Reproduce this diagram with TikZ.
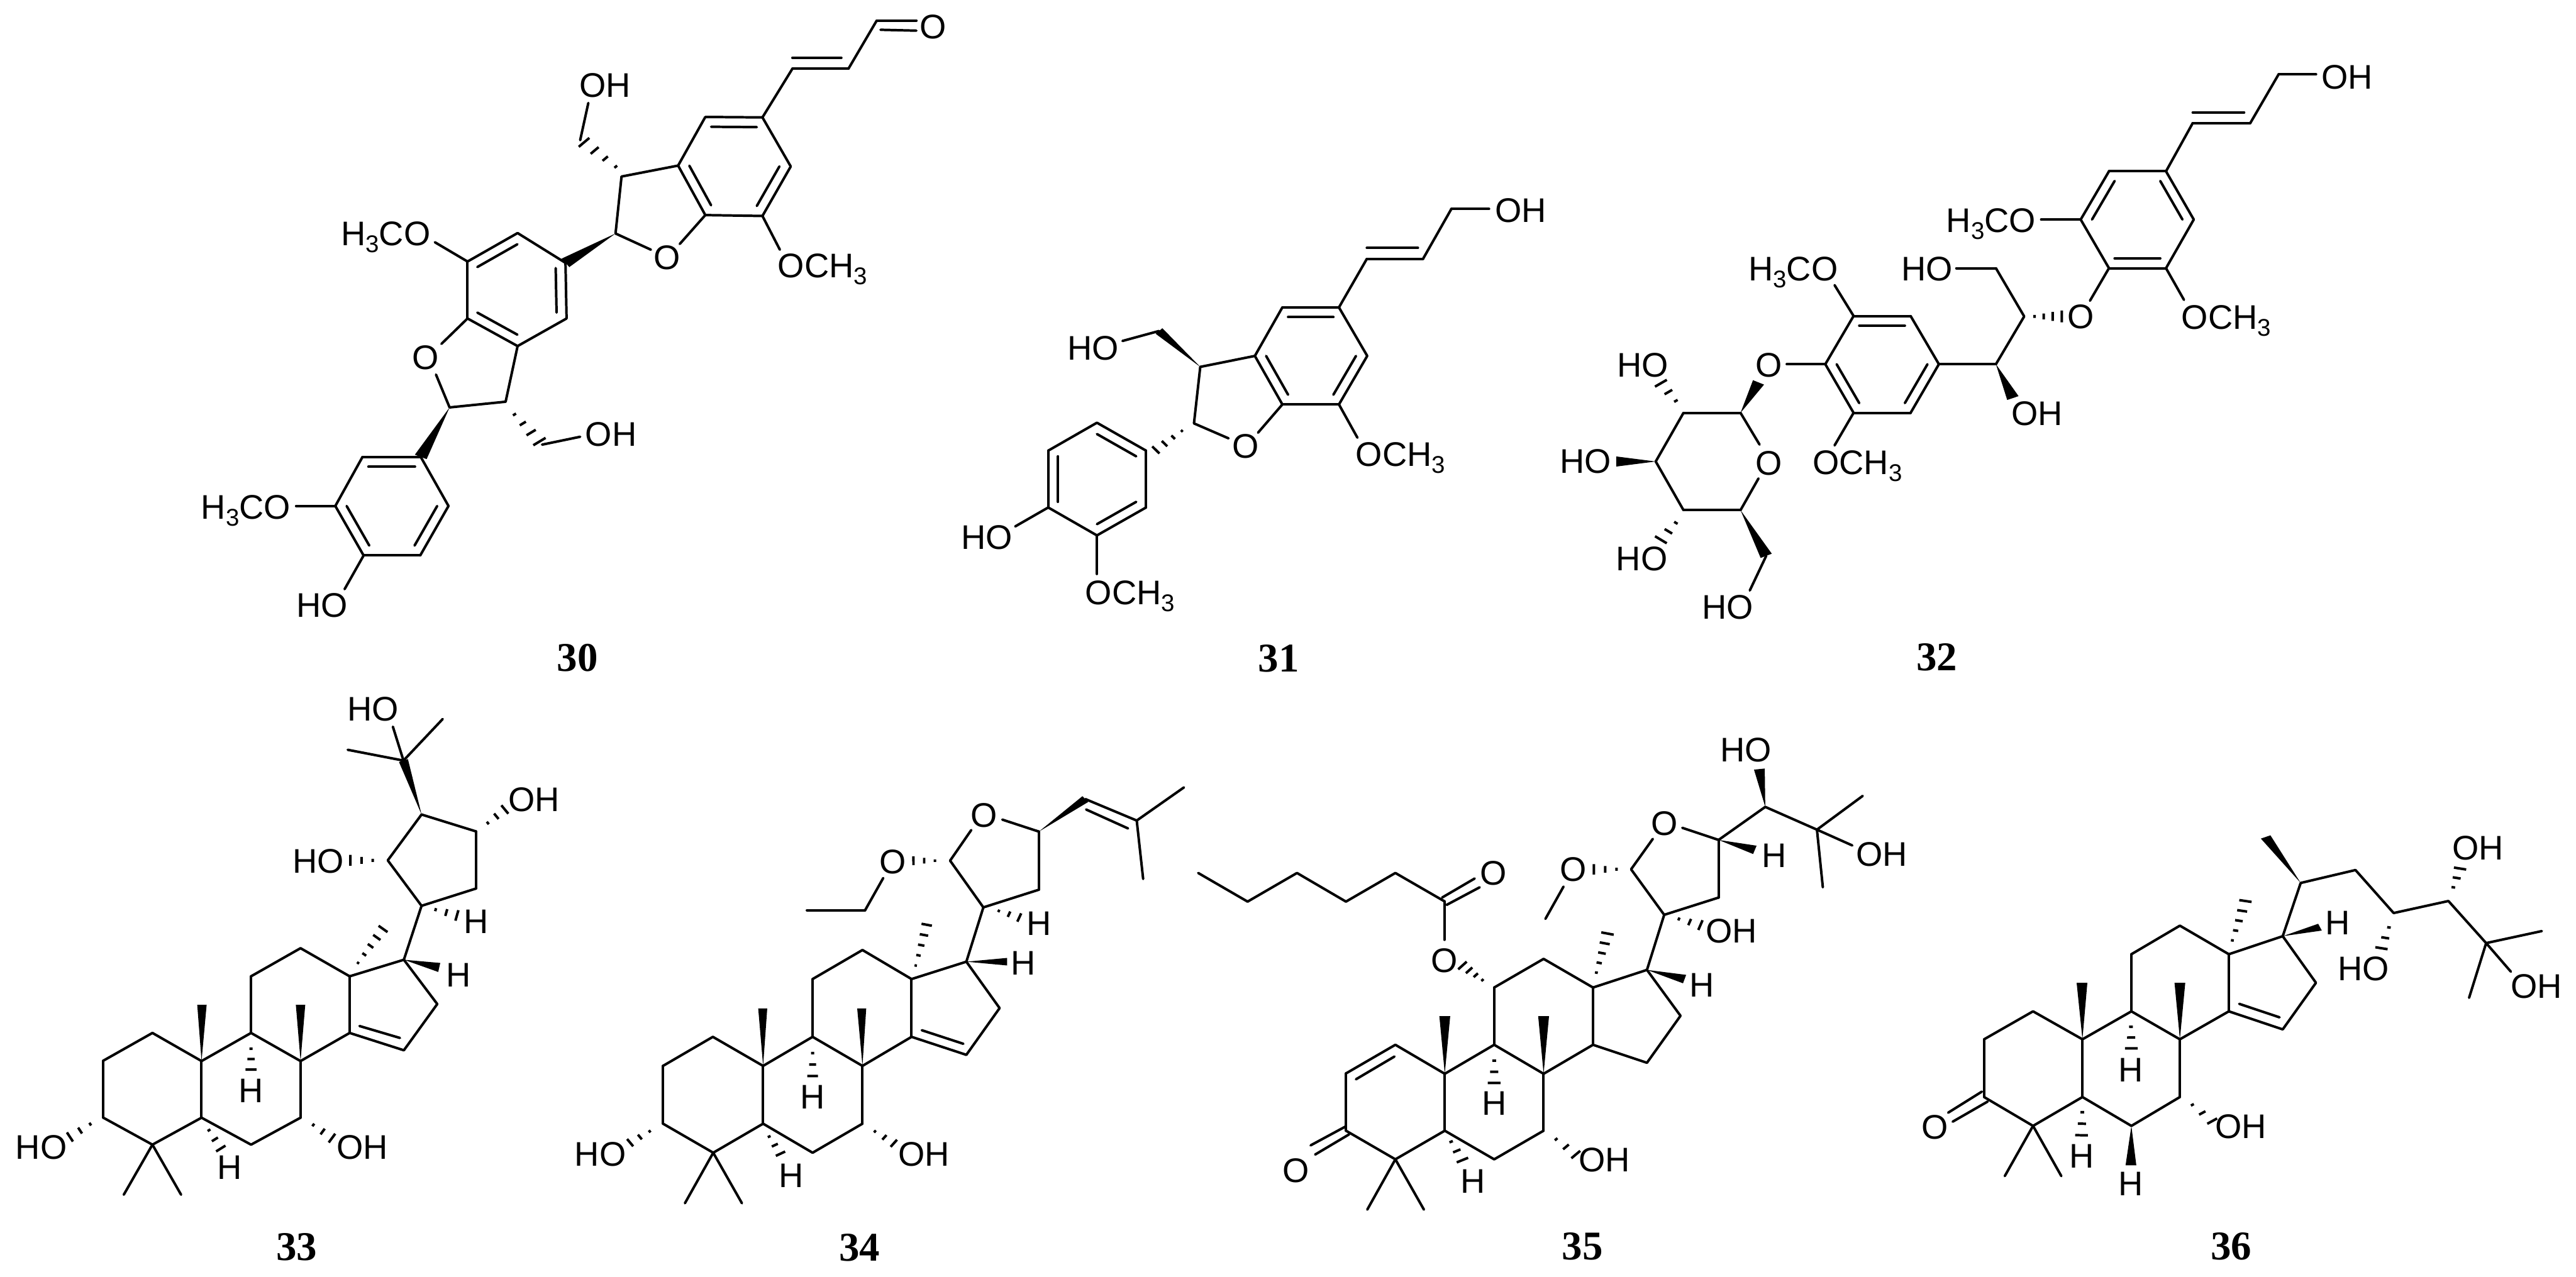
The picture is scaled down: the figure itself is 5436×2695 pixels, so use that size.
\documentclass[tikz,border=0pt]{standalone}
\usepackage{fontspec}
\setmainfont{Liberation Sans}
\newfontfamily\numfont{Liberation Serif}
\usetikzlibrary{calc}
\tikzset{
  bond/.style={line width=1.5pt,line cap=round,line join=round,black},
  hashline/.style={line width=1.5pt,line cap=butt,black},
  lab/.style={inner sep=0pt,font=\fontsize{20.5}{24}\selectfont,text=black},
  numlab/.style={inner sep=0pt,anchor=base,font=\numfont\bfseries\fontsize{24.5}{28}\selectfont,text=black},
  molecule/.style n args={5}{shift={(#1,#2)},xscale=#3/1568,yscale=#4/1568,name prefix=#5-}
}
\newcommand\sbs[1]{\raisebox{-4.2pt}{\fontsize{14.5}{15}\selectfont #1}}
\newcommand\atoms[1]{\foreach \n/\x/\y in {#1}{\coordinate (\n) at (\x,\y);}}
\newcommand\bonds[1]{\foreach \p/\q in {#1}{\draw[bond] (\p)--(\q);}}
% inner line of a double bond #1-#2, pulled towards point #3 by fraction #4
\newcommand\inr[4]{\draw[bond] ($(#1)!#4!(#3)$)--($(#2)!#4!(#3)$);}
% solid wedge, narrow at #1, wide at #2
\newcommand\wdg[2]{\fill[black,line join=round] (#1)--($(#2)!3.4pt!90:(#1)$)--($(#2)!3.4pt!-90:(#1)$)--cycle;}
% hashed wedge with #1 strokes, narrow at #2, wide at #3
\newcommand\hsh[3]{\foreach \i in {1,...,#1}{%
  \pgfmathsetmacro\tt{(\i-0.6)/(#1-0.6)}%
  \pgfmathsetmacro\hh{\tt*3.4+0.6}%
  \coordinate (hp) at ($(#2)!\tt!(#3)$);%
  \draw[hashline] ($(hp)!\hh pt!90:(#2)$)--($(hp)!\hh pt!-90:(#2)$);}}
\newcommand\lb[5]{\node[lab,anchor=#2] (#1) at (#3,#4) {#5};}
\newcommand\OCH{OCH\sbs{3}}
\newcommand\HCO{H\sbs{3}CO}
\begin{document}
\begin{tikzpicture}[x=0.01cm,y=-0.01cm]
\useasboundingbox (0,0) rectangle (5436,2695);
\fill[white] (0,0) rectangle (5436,2695);

% ---------- 30 ----------
\begin{scope}[molecule={300}{0}{1800}{1450}{m30}]
\atoms{a1/1140/268,a2/1192/380,a3/1140/493,a4/1035/491,a5/985/378,a6/1035/267,ca/1088/379,
 b1/1195/157,b2/1298/157,b3/1350/47,bo/1423/47,i1/1195/132,i2/1285/132,j1/1357/68,j2/1423/70,
 oe/988/557,c1/870/533,co/935/570,c2/881/403,h1/878/388,h2/812/325,c3/805/320,c3o/820/235,
 ome/1172/570,d1/778/600,d2/780/727,d3/690/790,d4/598/727,d5/598/597,d6/690/532,cd/688/660,
 dome/538/553,doe/550/785,doe2/540/855,e1/565/930,e2/668/917,h3/678/938,h4/730/1008,e3/735/1015,e3o/805/997,
 f1/512/1043,f2/563/1155,f3/511/1268,f4/407/1268,f5/355/1155,f6/405/1043,cf/459/1155,fome/283/1155,foh/372/1345}
\bonds{a1/a2,a2/a3,a3/a4,a4/a5,a5/a6,a6/a1,a1/b1,b1/b2,b2/b3,b3/bo,j1/j2,i1/i2,a4/oe,co/c1,c1/c2,c2/a5,c3/c3o,a3/ome,
 d1/d2,d2/d3,d3/d4,d4/d5,d5/d6,d6/d1,d5/dome,d4/doe,doe2/e1,e1/e2,e2/d3,e3/e3o,
 f1/f2,f2/f3,f3/f4,f4/f5,f5/f6,f6/f1,f5/fome,f4/foh}
\inr{a6}{a1}{ca}{.2}\inr{a2}{a3}{ca}{.2}\inr{a4}{a5}{ca}{.2}
\inr{d6}{d5}{cd}{.2}\inr{d1}{d2}{cd}{.2}\inr{d3}{d4}{cd}{.2}
\inr{f1}{f6}{cf}{.2}\inr{f2}{f3}{cf}{.2}\inr{f4}{f5}{cf}{.2}
\hsh{4}{h1}{h2}\hsh{4}{h3}{h4}\wdg{c1}{d1}\wdg{e1}{f1}
\lb{l1}{base}{1454}{88}{O}
\lb{l2}{base}{851}{222}{OH}
\lb{l3}{base west}{1168}{634}{\OCH}
\lb{l4}{base west}{365}{560}{\HCO}
\lb{l5}{base}{521}{843}{O}
\lb{l6}{base}{862}{1018}{OH}
\lb{l7}{base}{965}{615}{O}
\lb{l8}{base west}{108}{1185}{\HCO}
\lb{l9}{base}{331}{1408}{HO}
\node[numlab] (num) at (800,1532) {30};
\end{scope}

% ---------- 31 ----------
\begin{scope}[molecule={1950}{350}{1300}{1100}{m31}]
\atoms{a1/1056/426,a2/1128/572,a3/1056/718,a4/912/718,a5/842/572,a6/912/426,ca/985/572,
 b1/1127/280,b2/1270/280,b3/1342/130,bo/1438/130,i1/1127/247,i2/1257/247,
 ome/1103/818,oe/850/803,oe2/775/820,c1/687/775,c2/703/605,c3/598/497,c3o/505/527,
 h1/665/790,h2/590/855,d1/565/857,d2/565/1028,d3/440/1112,d4/316/1028,d5/316/857,d6/440/773,cd/440/943,
 doh/232/1085,dome/440/1228}
\bonds{a1/a2,a2/a3,a3/a4,a4/a5,a5/a6,a6/a1,a1/b1,b1/b2,b2/b3,b3/bo,i1/i2,a3/ome,a4/oe,oe2/c1,c1/c2,c2/a5,c3/c3o,
 d1/d2,d2/d3,d3/d4,d4/d5,d5/d6,d6/d1,d4/doh,d3/dome}
\inr{a6}{a1}{ca}{.2}\inr{a2}{a3}{ca}{.2}\inr{a4}{a5}{ca}{.2}
\inr{d6}{d1}{cd}{.2}\inr{d2}{d3}{cd}{.2}\inr{d4}{d5}{cd}{.2}
\wdg{c2}{c3}\hsh{4}{h1}{h2}
\lb{l1}{base west}{1453}{170}{OH}
\lb{l2}{base west}{1098}{903}{\OCH}
\lb{l3}{base}{818}{880}{O}
\lb{l4}{base}{430}{585}{HO}
\lb{l5}{base}{160}{1153}{HO}
\lb{l6}{base west}{410}{1320}{\OCH}
\node[numlab] (num) at (903,1522) {31};
\end{scope}

% ---------- 32 ----------
\begin{scope}[molecule={3250}{50}{1700}{1400}{m32}]
\atoms{a1/1218/349,a2/1272/463,a3/1218/578,a4/1107/578,a5/1052/463,a6/1107/349,ca/1162/463,
 b1/1270/235,b2/1382/235,b3/1437/120,bo/1510/120,i1/1270/210,i2/1370/210,
 ame/975/463,aoe/1253/653,aoo/1070/655,c1/942/692,h1/955/692,h2/1015/692,c2/887/578,c2o/810/578,c3/887/805,c3w/920/885,
 d1/776/805,d2/721/920,d3/610/920,d4/555/805,d5/610/691,d6/721/691,cd/665/805,
 dme/573/618,doe/573/997,doo/480/805,e1/390/920,e1w/425/848,e2/279/920,e3/225/1035,e4/279/1150,e5/390/1150,
 rob/427/995,roc/425/1075,h3/270/900,h4/235/850,e3w/148/1035,h5/270/1172,h6/235/1220,e6/440/1258,e6o/408/1340}
\bonds{a1/a2,a2/a3,a3/a4,a4/a5,a5/a6,a6/a1,a1/b1,b1/b2,b2/b3,b3/bo,i1/i2,a5/ame,a3/aoe,a4/aoo,c1/c2,c2/c2o,c1/c3,c3/d1,
 d1/d2,d2/d3,d3/d4,d4/d5,d5/d6,d6/d1,d5/dme,d3/doe,d4/doo,e1/e2,e2/e3,e3/e4,e4/e5,e1/rob,e5/roc,e6/e6o}
\inr{a1}{a2}{ca}{.2}\inr{a3}{a4}{ca}{.2}\inr{a5}{a6}{ca}{.2}
\inr{d5}{d6}{cd}{.2}\inr{d1}{d2}{cd}{.2}\inr{d3}{d4}{cd}{.2}
\hsh{4}{h1}{h2}\wdg{c3}{c3w}\wdg{e1}{e1w}\hsh{3}{h3}{h4}\wdg{e3}{e3w}\hsh{3}{h5}{h6}\wdg{e5}{e6}
\lb{l1}{base west}{1520}{155}{OH}
\lb{l2}{base west}{790}{493}{\HCO}
\lb{l3}{base west}{1248}{722}{\OCH}
\lb{l4}{base}{1052}{720}{O}
\lb{l5}{base}{753}{607}{HO}
\lb{l6}{base}{967}{950}{OH}
\lb{l7}{base west}{405}{607}{\HCO}
\lb{l8}{base west}{530}{1065}{\OCH}
\lb{l9}{base}{445}{835}{O}
\lb{l10}{base}{445}{1067}{O}
\lb{l11}{base}{200}{835}{HO}
\lb{l12}{base}{88}{1063}{HO}
\lb{l13}{base}{198}{1293}{HO}
\lb{l14}{base}{365}{1407}{HO}
\node[numlab] (num) at (772,1530) {32};
\end{scope}

% ---------- 33 ----------
\begin{scope}[molecule={0}{1420}{1300}{1275}{m33}]
\atoms{a1/388/935,a2/263/1007,a3/263/1155,a4/388/1225,a5/513/1155,a6/513/1008,
 b1/639/935,b2/765/1008,b3/765/1155,b4/639/1225,c1/639/788,c2/765/715,c3/890/788,c4/890/935,
 d1/1028/745,d2/1113/860,d3/1028/980,i1/915/917,i2/1018/948,
 w1/514/862,w2/765/862,m1/905/762,m2/975/665,h1/639/965,h2/639/1030,h3/526/1178,h4/562/1235,
 g1/315/1355,g2/461/1355,h5/240/1165,h6/178/1205,h7/788/1167,h8/845/1208,
 e1/1073/605,e2/1212/560,e3/1212/412,e4/1073/368,e5/987/487,h9/1098/612,h10/1163/630,w3/1118/765,
 h11/1233/397,h12/1285/355,h13/960/487,h14/892/487,f/1027/228,f1/885/200,f2/1127/120,f3/1000/140}
\bonds{a1/a2,a2/a3,a3/a4,a4/a5,a5/a6,a6/a1,a6/b1,b1/b2,b2/b3,b3/b4,b4/a5,b1/c1,c1/c2,c2/c3,c3/c4,c4/b2,
 c3/d1,d1/d2,d2/d3,d3/c4,i1/i2,a4/g1,a4/g2,d1/e1,e1/e2,e2/e3,e3/e4,e4/e5,e5/e1,f/f1,f/f2,f/f3}
\wdg{a6}{w1}\wdg{b2}{w2}\wdg{d1}{w3}\wdg{e4}{f}
\hsh{5}{m1}{m2}\hsh{3}{h1}{h2}\hsh{3}{h3}{h4}\hsh{3}{h5}{h6}\hsh{3}{h7}{h8}\hsh{3}{h9}{h10}\hsh{3}{h11}{h12}\hsh{3}{h13}{h14}
\lb{l1}{base}{639}{1115}{H}
\lb{l2}{base}{585}{1315}{H}
\lb{l3}{base}{105}{1262}{HO}
\lb{l4}{base}{922}{1262}{OH}
\lb{l5}{base}{1212}{677}{H}
\lb{l6}{base}{1167}{815}{H}
\lb{l7}{base}{1359}{360}{OH}
\lb{l8}{base}{810}{520}{HO}
\lb{l9}{base}{950}{125}{HO}
\node[numlab] (num) at (755,1525) {33};
\end{scope}

% ---------- 34 ----------
\begin{scope}[molecule={1250}{1650}{1250}{1045}{m34}]
\atoms{a1/319/808,a2/187/900,a3/187/1083,a4/320/1175,a5/452/1083,a6/452/900,
 b1/583/808,b2/715/900,b3/715/1083,b4/583/1175,c1/583/625,c2/715/533,c3/845/625,c4/845/808,
 d1/990/570,d2/1078/717,d3/990/865,i1/872/787,i2/982/830,
 w1/451/718,w2/713/718,m1/853/595,m2/885/453,h1/583/845,h2/583/932,h3/462/1113,h4/498/1178,
 g1/245/1335,g2/396/1335,h5/162/1100,h6/100/1143,h7/738/1100,h8/798/1145,
 e1/1035/398,e2/1182/342,e3/1182/158,eo/1085/120,e4/947/250,eo2/1003/153,h9/1065/405,h10/1130/430,w3/1098/570,
 h11/918/250,h12/850/250,o1/770/305,f1/722/407,f2/568/407,k1/1305/55,k2/1441/123,j1/1307/88,j2/1418/148,k3/1566/18,k4/1458/308}
\bonds{a1/a2,a2/a3,a3/a4,a4/a5,a5/a6,a6/a1,a6/b1,b1/b2,b2/b3,b3/b4,b4/a5,b1/c1,c1/c2,c2/c3,c3/c4,c4/b2,
 c3/d1,d1/d2,d2/d3,d3/c4,i1/i2,a4/g1,a4/g2,d1/e1,e1/e2,e2/e3,e3/eo,e4/eo2,e4/e1,o1/f1,f1/f2,k1/k2,j1/j2,k2/k3,k2/k4}
\wdg{a6}{w1}\wdg{b2}{w2}\wdg{d1}{w3}\wdg{e3}{k1}
\hsh{5}{m1}{m2}\hsh{3}{h1}{h2}\hsh{3}{h3}{h4}\hsh{3}{h5}{h6}\hsh{3}{h7}{h8}\hsh{3}{h9}{h10}\hsh{3}{h11}{h12}
\lb{l1}{base}{583}{1035}{H}
\lb{l2}{base}{527}{1285}{H}
\lb{l3}{base east}{90}{1217}{HO}
\lb{l4}{base}{878}{1217}{OH}
\lb{l5}{base}{1183}{487}{H}
\lb{l6}{base}{1141}{612}{H}
\lb{l7}{base}{1037}{143}{O}
\lb{l8}{base}{795}{292}{O}
\node[numlab] (num) at (707,1517) {34};
\end{scope}

% ---------- 35 ----------
\begin{scope}[molecule={2450}{1480}{1500}{1215}{m35}]
\atoms{a1/517/936,a2/408/1014,a3/408/1170,a4/517/1248,a5/626/1170,a6/626/1015,i1/515/968,i2/430/1030,
 q1/408/1158,q2/330/1210,q3/415/1180,q4/340/1235,
 b1/735/936,b2/844/1015,b3/844/1170,b4/735/1248,c1/735/780,c2/844/702,c3/953/780,c4/953/936,
 d1/1072/732,d2/1146/857,d3/1072/985,w1/626/858,w2/844/858,m1/958/750,m2/985/633,
 h1/735/967,h2/735/1040,h3/635/1190,h4/665/1250,g1/455/1385,g2/580/1385,h5/863/1185,h6/915/1235,h7/715/765,h8/665/720,
 o1/625/650,k1/625/545,r1/620/535,r2/692/483,r3/630/555,r4/703/507,t1/517/468,t2/408/546,t3/300/468,t4/191/546,t5/82/468,
 e1/1110/582,e2/1230/535,e3/1230/378,eo/1150/345,e4/1037/458,eo2/1085/375,h9/1133/590,h10/1190/610,w3/1155/757,
 h11/1015/458,h12/955/458,o2/888/505,o3/848/593,w4/1310/405,p1/1333/288,w5/1320/185,p2/1447/350,p3/1548/258,p4/1460/507,p5/1525/393}
\bonds{a1/a2,a2/a3,a3/a4,a4/a5,a5/a6,a6/a1,a6/b1,b1/b2,b2/b3,b3/b4,b4/a5,b1/c1,c1/c2,c2/c3,c3/c4,c4/b2,
 c3/d1,d1/d2,d2/d3,d3/c4,i1/i2,q1/q2,q3/q4,a4/g1,a4/g2,o1/k1,r1/r2,r3/r4,k1/t1,t1/t2,t2/t3,t3/t4,t4/t5,
 d1/e1,e1/e2,e2/e3,e3/eo,e4/eo2,e4/e1,o2/o3,e3/p1,p1/p2,p2/p3,p2/p4,p2/p5}
\wdg{a6}{w1}\wdg{b2}{w2}\wdg{d1}{w3}\wdg{e3}{w4}\wdg{p1}{w5}
\hsh{5}{m1}{m2}\hsh{3}{h1}{h2}\hsh{3}{h3}{h4}\hsh{3}{h5}{h6}\hsh{4}{h7}{h8}\hsh{3}{h9}{h10}\hsh{3}{h11}{h12}
\lb{l1}{base}{298}{1310}{O}
\lb{l2}{base}{735}{1127}{H}
\lb{l3}{base}{688}{1340}{H}
\lb{l4}{base}{978}{1282}{OH}
\lb{l5}{base}{625}{738}{O}
\lb{l6}{base}{733}{500}{O}
\lb{l7}{base}{1258}{658}{OH}
\lb{l8}{base}{1193}{805}{H}
\lb{l9}{base}{1110}{365}{O}
\lb{l10}{base}{910}{490}{O}
\lb{l11}{base}{1352}{452}{H}
\lb{l12}{base}{1290}{165}{HO}
\lb{l13}{base west}{1533}{450}{OH}
\node[numlab] (num) at (930,1522) {35};
\end{scope}

% ---------- 36 ----------
\begin{scope}[molecule={3950}{1700}{1486}{995}{m36}]
\atoms{a1/359/685,a2/250/778,a3/250/970,a4/359/1066,a5/469/970,a6/469/778,
 b1/578/685,b2/686/778,b3/686/970,b4/578/1066,c1/578/495,c2/686/400,c3/795/495,c4/795/685,
 d1/915/435,d2/989/590,d3/915/745,i1/818/660,i2/908/705,
 q1/245/952,q2/170/1022,q3/258/985,q4/180/1052,g1/296/1233,g2/422/1233,w1/468/590,w2/686/590,
 h1/469/1005,h2/467/1097,h3/577/722,h4/578/808,w3/577/1197,h5/705/985,h6/758/1050,m1/800/462,m2/832/318,
 w4/998/405,e1/955/258,w5/877/105,e2/1077/215,e3/1162/358,e4/1284/318,e5/1368/458,
 h7/1155/392,h8/1135/475,h9/1292/285,h10/1310/210,p1/1492/418,p2/1330/640,p3/1423/553}
\bonds{a1/a2,a2/a3,a3/a4,a4/a5,a5/a6,a6/a1,a6/b1,b1/b2,b2/b3,b3/b4,b4/a5,b1/c1,c1/c2,c2/c3,c3/c4,c4/b2,
 c3/d1,d1/d2,d2/d3,d3/c4,i1/i2,q1/q2,q3/q4,a4/g1,a4/g2,d1/e1,e1/e2,e2/e3,e3/e4,e4/e5,e5/p1,e5/p2,e5/p3}
\wdg{a6}{w1}\wdg{b2}{w2}\wdg{b4}{w3}\wdg{d1}{w4}\wdg{e1}{w5}
\hsh{3}{h1}{h2}\hsh{3}{h3}{h4}\hsh{3}{h5}{h6}\hsh{5}{m1}{m2}\hsh{3}{h7}{h8}\hsh{3}{h9}{h10}
\lb{l1}{base}{140}{1110}{O}
\lb{l2}{base}{467}{1205}{H}
\lb{l3}{base}{577}{920}{H}
\lb{l4}{base}{577}{1298}{H}
\lb{l5}{base}{822}{1108}{OH}
\lb{l6}{base}{1037}{430}{H}
\lb{l7}{base}{1095}{583}{HO}
\lb{l8}{base}{1350}{182}{OH}
\lb{l9}{base}{1480}{642}{OH}
\node[numlab] (num) at (800,1512) {36};
\end{scope}
\end{tikzpicture}
\end{document}
